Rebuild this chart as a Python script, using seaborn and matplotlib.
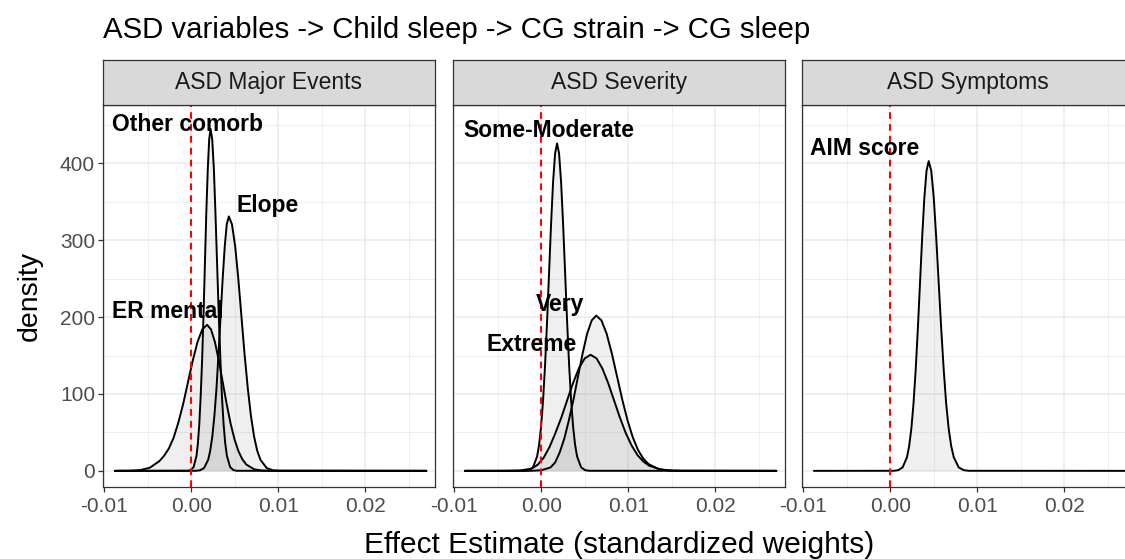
import matplotlib
matplotlib.use("Agg")
import matplotlib.pyplot as plt
import seaborn as sns
import pandas as pd

# ---- data ----
panels = ["ASD Major Events", "ASD Severity", "ASD Symptoms"]

other_x = [-0.0088, -0.0004, -0.00008, 0.00025, 0.00058, 0.00074, 0.0009, 0.00106, 0.00123, 0.00139,
           0.00155, 0.00171, 0.00188, 0.00204, 0.0022,
           0.00239, 0.00258, 0.00276, 0.00295, 0.00314, 0.00333, 0.00351, 0.0037, 0.00389,
           0.00408, 0.00445, 0.00483, 0.0052, 0.027]
other_y = [0, 0.1, 1.0, 4.9, 19.5, 35.4, 60.2, 96.3, 144.5, 203.7,
           269.9, 335.9, 392.7, 431.3, 445,
           431.3, 392.7, 335.9, 269.9, 203.7, 144.5, 96.3, 60.2, 35.4,
           19.5, 4.9, 1.0, 0.1, 0]

elope_x = [-0.0088, 0.0005, 0.00098, 0.00145, 0.00193, 0.00216, 0.0024, 0.00264, 0.00288, 0.00311,
           0.00335, 0.00359, 0.00383, 0.00406, 0.0043,
           0.00466, 0.00503, 0.00539, 0.00575, 0.00611, 0.00648, 0.00684, 0.0072, 0.00756,
           0.00793, 0.00865, 0.00938, 0.0101, 0.027]
elope_y = [0, 0.1, 0.7, 3.7, 14.5, 26.3, 44.8, 71.6, 107.5, 151.5,
           200.8, 249.8, 292.1, 320.8, 331,
           320.8, 292.1, 249.8, 200.8, 151.5, 107.5, 71.6, 44.8, 26.3,
           14.5, 3.7, 0.7, 0.1, 0]

er_x = [-0.0088, -0.007, -0.0059, -0.0048, -0.0037, -0.00315, -0.0026, -0.00205, -0.0015, -0.00095,
        -0.0004, 0.00015, 0.0007, 0.00125, 0.0018,
        0.00225, 0.0027, 0.00315, 0.0036, 0.00405, 0.0045, 0.00495, 0.0054, 0.00585,
        0.0063, 0.0072, 0.0081, 0.009, 0.027]
er_y = [0, 0.2, 1.0, 4.0, 12.5, 19.5, 29.0, 43.0, 63.0, 87.0,
        115.2, 143.4, 167.7, 184.1, 190,
        184.1, 167.7, 143.4, 115.2, 87.0, 61.7, 41.1, 25.7, 15.1,
        8.3, 2.1, 0.4, 0.1, 0]

some_x = [-0.0088, -0.00188, -0.00142, -0.00096, -0.0005, -0.00027, -0.00004, 0.00019, 0.00042, 0.00065,
          0.00088, 0.00111, 0.00134, 0.00157, 0.0018,
          0.00203, 0.00226, 0.00249, 0.00272, 0.00295, 0.00318, 0.00341, 0.00364, 0.00387,
          0.0041, 0.00456, 0.00502, 0.00548, 0.027]
some_y = [0, 0.1, 0.9, 4.7, 18.7, 33.9, 57.6, 92.1, 138.3, 195.0,
          258.4, 321.5, 375.9, 412.9, 426,
          412.9, 375.9, 321.5, 258.4, 195.0, 138.3, 92.1, 57.6, 33.9,
          18.7, 4.7, 0.9, 0.1, 0]

very_x = [-0.0088, -0.0021, -0.00105, 0.0, 0.00105, 0.00158, 0.0021, 0.00263, 0.00315, 0.00368,
          0.0042, 0.00473, 0.00525, 0.00578, 0.0063,
          0.0069, 0.0075, 0.0081, 0.0087, 0.0093, 0.0099, 0.0105, 0.0111, 0.0117,
          0.0123, 0.0135, 0.0147, 0.0159, 0.027]
very_y = [0, 0.0, 0.1, 0.8, 4.5, 11.0, 24.0, 42.0, 65.6, 92.5,
          122.5, 152.5, 178.3, 195.8, 202,
          195.8, 178.3, 152.5, 122.5, 92.5, 65.6, 43.7, 27.3, 16.1,
          8.9, 2.2, 0.4, 0.1, 0]

extreme_x = [-0.0088, -0.00515, -0.0038, -0.00245, -0.0011, -0.00043, 0.00025, 0.00093, 0.0016, 0.00228,
             0.00295, 0.00363, 0.0043, 0.00498, 0.00565,
             0.00633, 0.007, 0.00768, 0.00835, 0.00903, 0.0097, 0.01038, 0.01105, 0.01173,
             0.0124, 0.01375, 0.0151, 0.01645, 0.027]
extreme_y = [0, 0.0, 0.1, 0.5, 3.0, 8.0, 17.0, 31.0, 49.0, 69.1,
             91.6, 114.0, 133.3, 146.4, 151,
             146.4, 133.3, 114.0, 91.6, 69.1, 49.0, 32.7, 20.4, 12.0,
             6.6, 1.7, 0.3, 0.1, 0]

aim_x = [-0.0088, 0.0004, 0.0009, 0.0014, 0.0019, 0.00215, 0.0024, 0.00265, 0.0029, 0.00315,
         0.0034, 0.00365, 0.0039, 0.00415, 0.0044,
         0.00469, 0.00498, 0.00526, 0.00555, 0.00584, 0.00613, 0.00641, 0.0067, 0.00699,
         0.00728, 0.00785, 0.00843, 0.009, 0.027]
aim_y = [0, 0.1, 0.9, 4.5, 17.7, 32.1, 54.5, 87.2, 130.9, 184.5,
         244.4, 304.2, 355.6, 390.6, 403,
         390.6, 355.6, 304.2, 244.4, 184.5, 130.9, 87.2, 54.5, 32.1,
         17.7, 4.5, 0.9, 0.1, 0]

# panel, curve name, x, y, label x, label y
curves = [
    (0, "Other comorb", other_x, other_y, -0.00048, 450),
    (0, "Elope", elope_x, elope_y, 0.00878, 345),
    (0, "ER mental", er_x, er_y, -0.00267, 207),
    (1, "Some-Moderate", some_x, some_y, 0.00089, 443),
    (1, "Very", very_x, very_y, 0.00209, 216),
    (1, "Extreme", extreme_x, extreme_y, -0.00107, 164),
    (2, "AIM score", aim_x, aim_y, -0.00291, 420),
]

x_ticks = [-0.01, 0.0, 0.01, 0.02]
x_tick_labels = ["-0.01", "0.00", "0.01", "0.02"]
y_ticks = [0, 100, 200, 300, 400]

sns.set_theme(style="white")
plt.rcParams["font.family"] = ["Liberation Sans", "DejaVu Sans"]

W, H = 1125, 559
fig = plt.figure(figsize=(W / 100, H / 100), dpi=100)

panel_left = [102.7, 452.7, 801.7]
panel_w = 332.3
panel_top, panel_bot = 105, 487
strip_top = 60

for i, name in enumerate(panels):
    ax = fig.add_axes([panel_left[i] / W, 1 - panel_bot / H,
                       panel_w / W, (panel_bot - panel_top) / H])
    ax.set_facecolor("white")
    ax.set_xlim(-0.0102, 0.0280)
    ax.set_ylim(-21, 476)
    ax.set_xticks(x_ticks)
    ax.set_xticklabels(x_tick_labels)
    ax.set_xticks([-0.005, 0.005, 0.015, 0.025], minor=True)
    ax.set_yticks(y_ticks)
    ax.set_yticks([50, 150, 250, 350, 450], minor=True)
    ax.grid(which="major", color="#EBEBEB", linewidth=1.1)
    ax.grid(which="minor", color="#EBEBEB", linewidth=0.55)
    ax.set_axisbelow(True)
    for s in ax.spines.values():
        s.set_color("#333333")
        s.set_linewidth(0.9)
    ax.tick_params(axis="both", which="major", length=3.5, width=0.9, color="#333333",
                   labelcolor="#4D4D4D", labelsize=15, pad=2, bottom=True, left=(i == 0))
    ax.tick_params(axis="x", which="major", pad=4)
    ax.tick_params(which="minor", length=0)
    if i > 0:
        ax.set_yticklabels([])

    for p, lab, xs, ys, lx, ly in curves:
        if p != i:
            continue
        df = pd.DataFrame({"x": xs, "y": ys})
        ax.fill_between(df["x"], df["y"], color="grey", alpha=0.12, linewidth=0)
        sns.lineplot(data=df, x="x", y="y", ax=ax, color="black", linewidth=1.4)
        ax.text(lx, ly, lab, fontsize=16.5, fontweight="bold", color="black",
                ha="center", va="center", zorder=5)

    ax.axvline(0, color="red", linestyle=(0, (3.2, 2.5)), linewidth=1.5, zorder=4)
    ax.set_xlabel("")
    ax.set_ylabel("")

    # facet strip
    sax = fig.add_axes([panel_left[i] / W, 1 - panel_top / H,
                        panel_w / W, (panel_top - strip_top) / H])
    sax.set_facecolor("#D9D9D9")
    sax.set_xticks([])
    sax.set_yticks([])
    for s in sax.spines.values():
        s.set_color("#333333")
        s.set_linewidth(0.9)
    sax.text(0.5, 0.5, name, ha="center", va="center", fontsize=16.5,
             color="#1A1A1A", transform=sax.transAxes)

fig.text(103 / W, 1 - 30 / H, "ASD variables -> Child sleep -> CG strain -> CG sleep",
         ha="left", va="center", fontsize=21.2, color="black")
fig.text(619 / W, 1 - 545 / H, "Effect Estimate (standardized weights)",
         ha="center", va="center", fontsize=21.5, color="black")
fig.text(30 / W, 1 - 296 / H, "density", ha="center", va="center",
         rotation=90, fontsize=20.5, color="black")

fig.savefig("out.png", dpi=100)
plt.close(fig)
